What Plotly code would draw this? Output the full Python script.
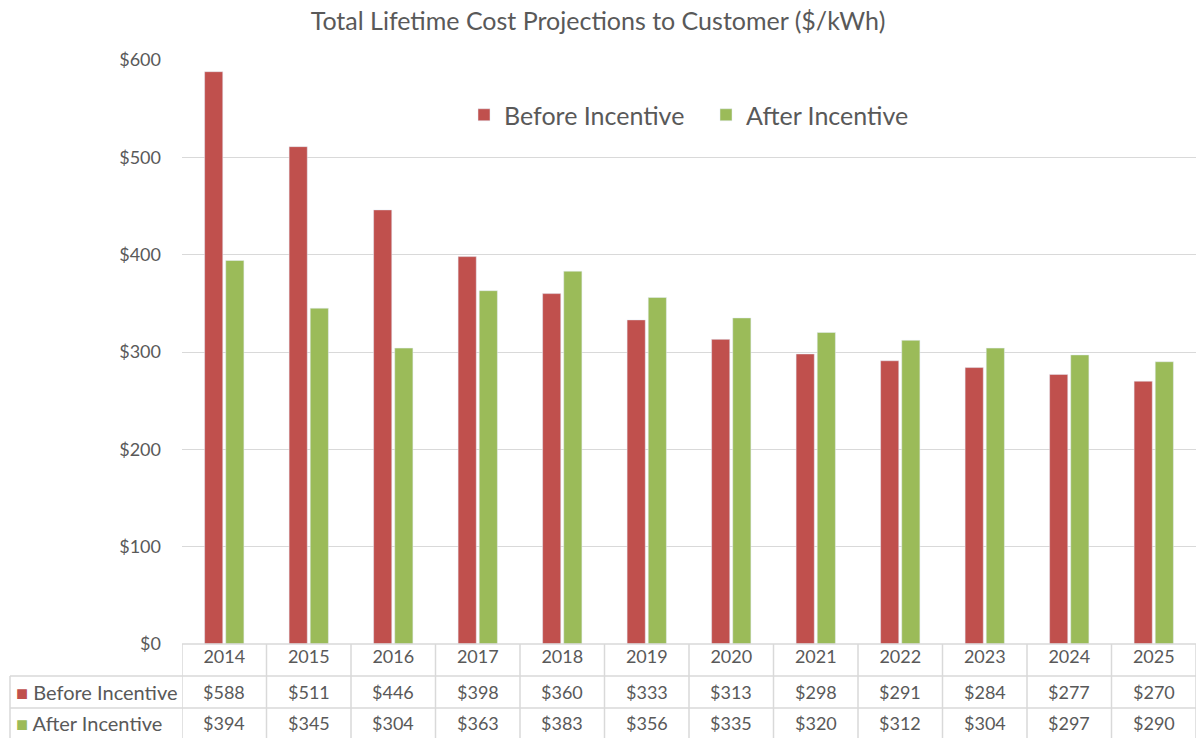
import plotly.graph_objects as go

years = ['2014', '2015', '2016', '2017', '2018', '2019', '2020', '2021', '2022', '2023', '2024', '2025']
before = [588, 511, 446, 398, 360, 333, 313, 298, 291, 284, 277, 270]
after = [394, 345, 304, 363, 383, 356, 335, 320, 312, 304, 297, 290]

RED = '#C0504D'
GREEN = '#9BBB59'
TXT = '#595959'
GRID = '#D9D9D9'
FONT = 'Lato, Open Sans, sans-serif'

W, H = 1196, 738
L, R, T, B = 182, 0, 60, 94
PH = H - T - B
PW = W - L - R

def py(pix):
    # pixel row -> paper y
    return (H - B - pix) / PH

def px_(pix):
    return (pix - L) / PW

fig = go.Figure()
fig.add_trace(go.Bar(x=years, y=before, name='Before Incentive', marker_color=RED))
fig.add_trace(go.Bar(x=years, y=after, name='After Incentive', marker_color=GREEN))

fig.update_layout(
    width=W, height=H,
    margin=dict(l=L, r=R, t=T, b=B),
    paper_bgcolor='white', plot_bgcolor='white',
    font=dict(family=FONT, color=TXT, size=18),
    barmode='group', bargap=0.5, bargroupgap=0.14,
    title=dict(text='Total Lifetime Cost Projections to Customer ($/kWh)',
               x=0.5, xref='container', xanchor='center', y=1 - 21 / H, yanchor='middle',
               font=dict(size=25, color=TXT, family=FONT)),
    legend=dict(orientation='h', x=px_(464), xanchor='left', y=py(115), yanchor='middle',
                font=dict(size=25, color=TXT), bgcolor='rgba(0,0,0,0)', itemwidth=30,
                entrywidth=197, entrywidthmode='pixels', traceorder='normal'),
    showlegend=True,
)
fig.update_xaxes(type='category', showgrid=False, showline=False, zeroline=False,
                 showticklabels=True, ticks='', tickfont=dict(size=18, color=TXT),
                 range=[-0.5, 11.5])
fig.update_yaxes(range=[0, 600], dtick=100, tickprefix='$', gridcolor=GRID, gridwidth=1,
                 zeroline=False, showline=False, ticklabelstandoff=20,
                 tickfont=dict(size=18, color=TXT))

# data table below the plot
shapes = []
line = dict(color=GRID, width=1.5)
shapes.append(dict(type='line', xref='paper', yref='paper', x0=0, x1=1, y0=py(644), y1=py(644), line=line))
for pix in (676, 708):
    shapes.append(dict(type='line', xref='paper', yref='paper', x0=px_(10), x1=1, y0=py(pix), y1=py(pix), line=line))
shapes.append(dict(type='line', xref='paper', yref='paper', x0=px_(10), x1=px_(10), y0=py(676), y1=py(738), line=line))
for i in range(len(years) + 1):
    shapes.append(dict(type='line', xref='x', yref='paper', x0=i - 0.5, x1=i - 0.5,
                       y0=py(644), y1=py(738), line=line))
fig.update_layout(shapes=shapes)

ann = []
for i in range(len(years)):
    ann.append(dict(x=i, y=py(692), xref='x', yref='paper', text=f'${before[i]}', showarrow=False,
                    font=dict(size=18, color=TXT), yanchor='middle'))
    ann.append(dict(x=i, y=py(723), xref='x', yref='paper', text=f'${after[i]}', showarrow=False,
                    font=dict(size=18, color=TXT), yanchor='middle'))
for name, col, pix in (('Before Incentive', RED, 692), ('After Incentive', GREEN, 723)):
    ann.append(dict(x=px_(14), y=py(pix), xref='paper', yref='paper', xanchor='left', yanchor='middle',
                    text=f"<span style='color:{col}'>■</span> {name}", showarrow=False,
                    font=dict(size=20, color=TXT)))
fig.update_layout(annotations=ann)

# drop the default body margin so the figure sits at the page origin
fig.write_html('out.html', config={'displayModeBar': False},
               post_script="document.body.style.margin='0';document.body.style.overflow='hidden';")
